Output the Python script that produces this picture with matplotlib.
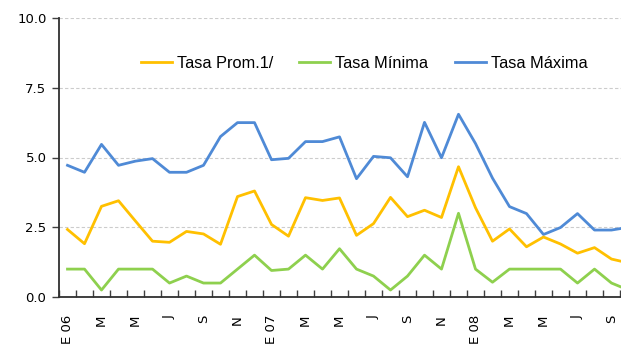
import matplotlib.pyplot as plt
import numpy as np

# monthly rates, Jan 2006 - Oct 2008
tasa_prom = [2.42, 1.91, 3.25, 3.45, 2.72, 2.00, 1.96, 2.35, 2.26, 1.89, 3.60, 3.80,
             2.60, 2.18, 3.56, 3.46, 3.55, 2.21, 2.63, 3.57, 2.88, 3.11, 2.85, 4.67,
             3.20, 2.00, 2.44, 1.80, 2.15, 1.90, 1.57, 1.77, 1.36, 1.22]
tasa_min = [1.00, 1.00, 0.25, 1.00, 1.00, 1.00, 0.50, 0.75, 0.50, 0.50, 1.00, 1.50,
            0.95, 1.00, 1.50, 1.00, 1.73, 1.00, 0.75, 0.25, 0.75, 1.50, 1.00, 3.00,
            1.00, 0.53, 1.00, 1.00, 1.00, 1.00, 0.50, 1.00, 0.50, 0.25]
tasa_max = [4.72, 4.47, 5.47, 4.72, 4.87, 4.96, 4.47, 4.47, 4.72, 5.75, 6.25, 6.25,
            4.92, 4.97, 5.57, 5.57, 5.74, 4.24, 5.04, 4.99, 4.31, 6.26, 4.99, 6.55,
            5.50, 4.26, 3.24, 2.99, 2.24, 2.49, 2.99, 2.40, 2.40, 2.50]
month_labels = ['E 06', 'M', 'M', 'J', 'S', 'N', 'E 07', 'M', 'M', 'J', 'S', 'N',
                'E 08', 'M', 'M', 'J', 'S']

W, H = 621, 347
fig = plt.figure(figsize=(W / 100, H / 100), dpi=100)
# plot area runs a little past the right edge of the canvas
left, right, top, bottom = 59, 637, 18, 297
ax = fig.add_axes([left / W, 1 - bottom / H, (right - left) / W, (bottom - top) / H])

x = np.arange(len(tasa_prom))
ax.plot(x, tasa_max, color='#4F8AD6', lw=2.0, label='Tasa Máxima', zorder=3)
ax.plot(x, tasa_prom, color='#FFC000', lw=2.0, label='Tasa Prom.1/', zorder=3)
ax.plot(x, tasa_min, color='#8ED04E', lw=2.0, label='Tasa Mínima', zorder=3)

ax.set_xlim(-0.5, len(x) - 0.5)
ax.set_ylim(0, 10)
ax.set_yticks([0, 2.5, 5, 7.5, 10])
ax.set_yticklabels([f'{v:.1f}' for v in [0, 2.5, 5, 7.5, 10]])
ax.yaxis.grid(True, color='#CCCCCC', ls=(0, (3, 2)), lw=0.8)
ax.set_axisbelow(True)

# tick marks on month boundaries, labels centred on every other month
ax.set_xticks(np.arange(-0.5, len(x), 1.0))
ax.set_xticklabels([])
ax.set_xticks(np.arange(0, 2 * len(month_labels), 2), minor=True)
ax.set_xticklabels(month_labels, minor=True, rotation=90, va='top', ha='center')
ax.tick_params(axis='x', which='major', direction='in', length=5, width=1, color='#404040')
ax.tick_params(axis='x', which='minor', length=0, pad=13, labelsize=9.5)
ax.tick_params(axis='y', direction='out', length=5, width=1, color='#404040',
               labelsize=9.5, pad=4)

for side in ['top', 'right']:
    ax.spines[side].set_visible(False)
for side in ['left', 'bottom']:
    ax.spines[side].set_color('#303030')
    ax.spines[side].set_linewidth(1.3)

handles, labels = ax.get_legend_handles_labels()
order = [1, 2, 0]
fig.legend([handles[i] for i in order], [labels[i] for i in order],
           loc='center', bbox_to_anchor=(364 / W, 1 - 63 / H), ncol=3, frameon=False,
           handlelength=1.9, handletextpad=0.3, columnspacing=1.6,
           prop={'family': 'Liberation Sans', 'size': 11.8})

fig.savefig('out.png', dpi=100)
